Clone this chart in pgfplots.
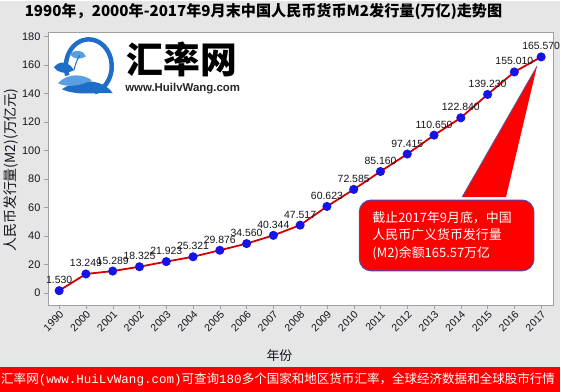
\documentclass[border=0pt]{standalone}
\usepackage{pgfplots}
\pgfplotsset{compat=1.18}
\usepackage{pgfplotstable}
\usepackage{fontspec}
\setmainfont{Liberation Sans}
\newfontfamily\cjk{Noto Sans CJK SC}
\newfontfamily\mono{Liberation Mono}
\definecolor{bg}{RGB}{230,230,230}
\definecolor{lred}{RGB}{210,0,0}
\definecolor{mblue}{RGB}{20,20,230}
\definecolor{qblue}{RGB}{30,110,200}
\definecolor{qlight}{RGB}{90,160,225}
\definecolor{axgray}{RGB}{160,160,160}
\definecolor{txt}{RGB}{20,20,30}

\pgfplotstableread{
x y lab
0 1.530 1.530
1 13.249 13.249
2 15.289 15.289
3 18.325 18.325
4 21.923 21.923
5 25.321 25.321
6 29.876 29.876
7 34.560 34.560
8 40.344 40.344
9 47.517 47.517
10 60.623 60.623
11 72.585 72.585
12 85.160 85.160
13 97.415 97.415
14 110.650 110.650
15 122.840 122.840
16 139.230 139.230
17 155.010 155.010
18 165.570 165.570
}\mdata

\begin{document}
\begin{tikzpicture}[x=1bp,y=1bp]
\fill[bg] (0,0) rectangle (561,391);
\fill[red] (0,0) rectangle (561,25);
\begin{axis}[
  at={(48bp,87bp)}, anchor=south west,
  scale only axis, width=506bp, height=273bp,
  xmin=-0.42, xmax=18.44, ymin=-8.4, ymax=182.8,
  clip=false,
  axis background/.style={fill=white},
  axis line style={axgray},
  tick pos=left, tick align=outside,
  major tick length=4bp,
  tick style={axgray},
  ytick={0,20,...,180},
  xtick={0,...,18},
  xticklabels={1990,2000,2001,2002,2003,2004,2005,2006,2007,2008,2009,2010,2011,2012,2013,2014,2015,2016,2017},
  x tick label style={rotate=45, anchor=north east, font=\fontsize{10.5}{10.5}\selectfont, text=txt, inner sep=1bp},
  y tick label style={font=\fontsize{11}{11}\selectfont, text=txt},
  /pgf/number format/assume math mode=true,
]
\addplot[lred, line width=1.8bp, mark=*, mark size=3.6bp,
  mark options={fill=mblue, draw=mblue},
  nodes near coords, point meta=explicit symbolic,
  every node near coord/.append style={font=\fontsize{10.5}{10.5}\selectfont, text=txt, anchor=south, inner sep=1bp, yshift=5bp}]
  table[x=x, y=y, meta=lab] {\mdata};
\end{axis}
% title
\node[font=\fontsize{15.2}{15.2}\selectfont\cjk\bfseries, text=black] at (264,381) {1990年，2000年-2017年9月末中国人民币货币M2发行量(万亿)走势图};
% axis labels
\node[font=\fontsize{13}{13}\selectfont\cjk, text=txt] at (280,36) {年份};
\node[rotate=90, font=\fontsize{14}{14}\selectfont\cjk, text=txt] at (11,222) {人民币发行量(M2)(万亿元)};
% logo
\begin{scope}
\draw[qblue, line width=4.5bp] (89,326) ++(-75:23 and 27) arc[start angle=-75, end angle=200, x radius=23, y radius=27];
\fill[qblue] (62,303) .. controls (82,316) and (104,312) .. (113,299) .. controls (95,300) and (78,296) .. (62,303) -- cycle;
\fill[qlight] (58,309) .. controls (68,320) and (84,318) .. (92,312) .. controls (82,307) and (68,304) .. (58,309) -- cycle;
\fill[qblue] (54,325) .. controls (60,333) and (70,330) .. (74,322) .. controls (66,318) and (58,319) .. (54,325) -- cycle;
\fill[qlight] (70,338) .. controls (76,344) and (84,342) .. (86,336) .. controls (80,332) and (74,333) .. (70,338) -- cycle;
\draw[qblue, line width=1bp] (74,322) .. controls (76,330) and (78,334) .. (80,337);
\end{scope}
\node[font=\fontsize{37}{37}\selectfont\cjk\bfseries, text=black, inner sep=0] at (182,333) {汇率网};
\node[font=\fontsize{11.5}{11.5}\selectfont\bfseries, text=black!85, inner sep=0] at (183,304) {www.HuilvWang.com};
% callout
\fill[red] (463,195) -- (538,326) -- (507,195) -- cycle;
\draw[gray!70!blue, line width=0.8bp] (463,195) -- (538,326);
\draw[fill=red, draw=gray!60!blue, line width=1bp, rounded corners=12bp] (360,121) rectangle (535,192);
\begin{scope}[every node/.style={anchor=base west, inner sep=0, text=white, font=\fontsize{13}{13}\selectfont\cjk}]
\node at (373,169) {截止2017年9月底，中国};
\node at (373,152) {人民币广义货币发行量};
\node at (373,134) {(M2)余额165.57万亿};
\end{scope}
% footer
\node[anchor=west, inner sep=0, text=white, font=\fontsize{12.6}{12.6}\selectfont\cjk] at (1,12.5) {汇率网{\mono (www.HuiLvWang.com)}可查询{\mono 180}多个国家和地区货币汇率，全球经济数据和全球股市行情};
\end{tikzpicture}
\end{document}
